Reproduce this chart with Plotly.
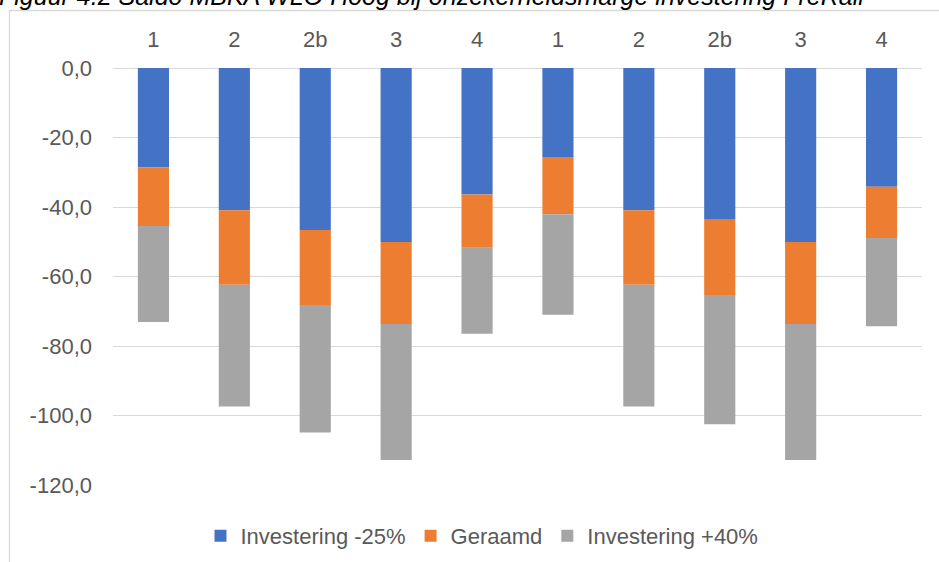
import plotly.graph_objects as go

W, H = 939, 562

categories = ["1", "2", "2b", "3", "4", "1", "2", "2b", "3", "4"]
investering_min25 = [-28.6, -40.9, -46.6, -50.1, -36.4, -25.6, -40.9, -43.7, -50.1, -34.2]
geraamd = [-16.9, -21.5, -21.6, -23.6, -15.3, -16.5, -21.5, -21.6, -23.6, -14.7]
investering_plus40 = [-27.6, -35.0, -36.7, -39.1, -24.8, -28.9, -35.0, -37.2, -39.1, -25.4]
y_ticks = [0, -20, -40, -60, -80, -100, -120]
y_ticktext = ["0,0", "-20,0", "-40,0", "-60,0", "-80,0", "-100,0", "-120,0"]
title_text = "Figuur 4.2 Saldo MBKA WLO Hoog bij onzekerheidsmarge investering FreRail"

x_pos = list(range(len(categories)))

# plot area in pixels
L, R, T, B = 113, 922, 68, 485
ml, mr, mt, mb = L, W - R, T, H - B

def px_to_paper_x(px):
    return (px - L) / (R - L)

def px_to_paper_y(py):
    return (B - py) / (B - T)

FONT = "Liberation Sans"
GREY_TXT = "#595959"
FS = 22

fig = go.Figure()
series = [
    ("Investering -25%", investering_min25, "#4472C4"),
    ("Geraamd", geraamd, "#ED7D31"),
    ("Investering +40%", investering_plus40, "#A5A5A5"),
]
for name, vals, col in series:
    fig.add_trace(go.Bar(x=x_pos, y=vals, name=name, marker=dict(color=col, line=dict(width=0))))

fig.update_layout(
    width=W, height=H,
    barmode="relative",
    bargap=0.615,
    margin=dict(l=ml, r=mr, t=mt, b=mb, autoexpand=False),
    paper_bgcolor="white",
    plot_bgcolor="white",
    font=dict(family=FONT, color=GREY_TXT, size=FS),
    showlegend=True,
    legend=dict(
        orientation="h",
        x=px_to_paper_x(482), xanchor="center",
        y=px_to_paper_y(536), yanchor="middle",
        font=dict(size=FS, color=GREY_TXT),
        traceorder="normal",
        itemwidth=30,
    ),
    xaxis=dict(
        side="top",
        tickmode="array",
        tickvals=x_pos,
        ticktext=categories,
        range=[-0.5, len(categories) - 0.5],
        showgrid=False,
        zeroline=False,
        showline=False,
        ticks="",
        ticklabelstandoff=16,
        tickfont=dict(size=FS, color=GREY_TXT),
    ),
    yaxis=dict(
        range=[-120, 0],
        tickmode="array",
        tickvals=y_ticks,
        ticktext=y_ticktext,
        showgrid=True,
        gridcolor="#D9D9D9",
        gridwidth=1.4,
        zeroline=True,
        zerolinecolor="#D9D9D9",
        zerolinewidth=1.4,
        showline=False,
        ticks="",
        ticklabelstandoff=20,
        tickfont=dict(size=FS, color=GREY_TXT),
    ),
)

# chart-area border (partially visible)
fig.add_shape(
    type="rect", xref="paper", yref="paper",
    x0=px_to_paper_x(9.5), x1=px_to_paper_x(W + 30),
    y0=px_to_paper_y(H + 30), y1=px_to_paper_y(10.5),
    line=dict(color="#D9D9D9", width=1.3), fillcolor="rgba(0,0,0,0)", layer="below",
)

# cut-off caption above the chart (as in the reference)
fig.add_annotation(
    text="<i>" + title_text + "</i>",
    xref="paper", yref="paper",
    x=px_to_paper_x(-3), xanchor="left",
    y=px_to_paper_y(-4), yanchor="middle",
    showarrow=False,
    font=dict(family=FONT, size=25, color="#000000"),
)

fig.write_html("out.html")
